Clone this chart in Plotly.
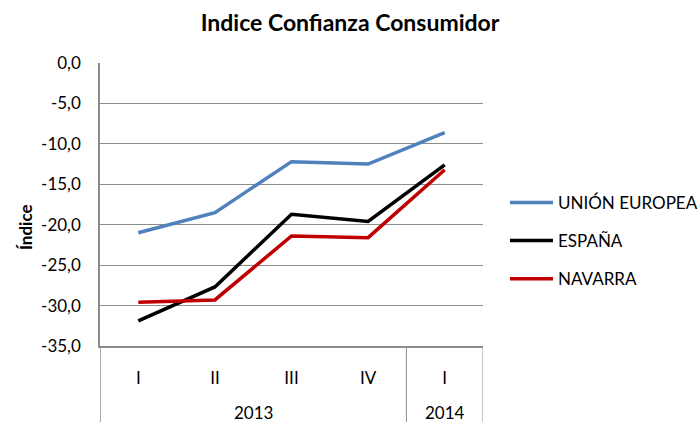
import plotly.graph_objects as go

years = ["2013", "2013", "2013", "2013", "2014"]
quarters = ["I", "II", "III", "IV", "I"]
ue = [-21.0, -18.5, -12.2, -12.5, -8.6]
espana = [-31.9, -27.7, -18.7, -19.6, -12.6]
navarra = [-29.6, -29.3, -21.4, -21.6, -13.2]
y_ticks = [0, -5, -10, -15, -20, -25, -30, -35]

FONT = "Lato"
GRID = "#8C8C8C"
pos = list(range(len(quarters)))

fig = go.Figure()
for name, vals, color in [("UNIÓN EUROPEA", ue, "#4F81BD"),
                          ("ESPAÑA", espana, "#000000"),
                          ("NAVARRA", navarra, "#C00000")]:
    fig.add_trace(go.Scatter(x=pos, y=vals, name=name, mode="lines", legendgroup=name,
                             line=dict(color=color, width=3.5)))

# year group labels and dividers
groups = []
for i, yr in enumerate(years):
    if not groups or groups[-1][0] != yr:
        groups.append([yr, i, i])
    else:
        groups[-1][2] = i
for yr, a, b in groups:
    fig.add_annotation(x=(a + b) / 2, y=-0.236, xref="x", yref="paper", text=yr,
                       showarrow=False, yanchor="middle", font=dict(family=FONT, size=17))
bounds = [groups[0][1] - 0.5] + [g[2] + 0.5 for g in groups]
for bx in bounds:
    fig.add_shape(type="line", x0=bx, x1=bx, xref="x", y0=0, y1=-0.3, yref="paper",
                  line=dict(color=GRID, width=1.5 if bx == bounds[0] else 1))

fig.add_annotation(x=-0.196, y=0.42, xref="paper", yref="paper", text="<b>Índice</b>",
                   textangle=-90, showarrow=False, xanchor="center", yanchor="middle",
                   font=dict(family=FONT, size=17))

fig.update_layout(
    width=700, height=422,
    paper_bgcolor="white", plot_bgcolor="white",
    margin=dict(l=100, r=217, t=63, b=76),
    font=dict(family=FONT, size=17, color="#000000"),
    title=dict(text="<b>Indice Confianza Consumidor</b>", x=0.5, xanchor="center",
               y=0.945, yanchor="middle", font=dict(family=FONT, size=23)),
    legend=dict(x=0.7214, xref="container", y=0.569, yref="paper",
                xanchor="left", yanchor="top", traceorder="grouped",
                font=dict(family=FONT, size=17), tracegroupgap=13,
                itemwidth=43, bgcolor="rgba(0,0,0,0)"),
    showlegend=True,
)
fig.update_yaxes(range=[-35, 0], tickvals=y_ticks,
                 ticktext=[f"{v:.1f}".replace(".", ",") for v in y_ticks],
                 showgrid=True, gridcolor=GRID, gridwidth=1,
                 showline=True, linecolor=GRID, linewidth=1.5,
                 ticks="", ticklabelstandoff=14, automargin=False,
                 zeroline=False, tickfont=dict(family=FONT, size=17))
fig.update_xaxes(range=[-0.5, len(quarters) - 0.5], tickvals=pos, ticktext=quarters,
                 showline=True, linecolor=GRID, linewidth=1.5,
                 ticks="", showgrid=False, automargin=False, ticklabelstandoff=16,
                 zeroline=False, tickfont=dict(family=FONT, size=17))
fig.write_html("out.html", config={"displayModeBar": False},
               post_script="document.body.style.margin='0';")
